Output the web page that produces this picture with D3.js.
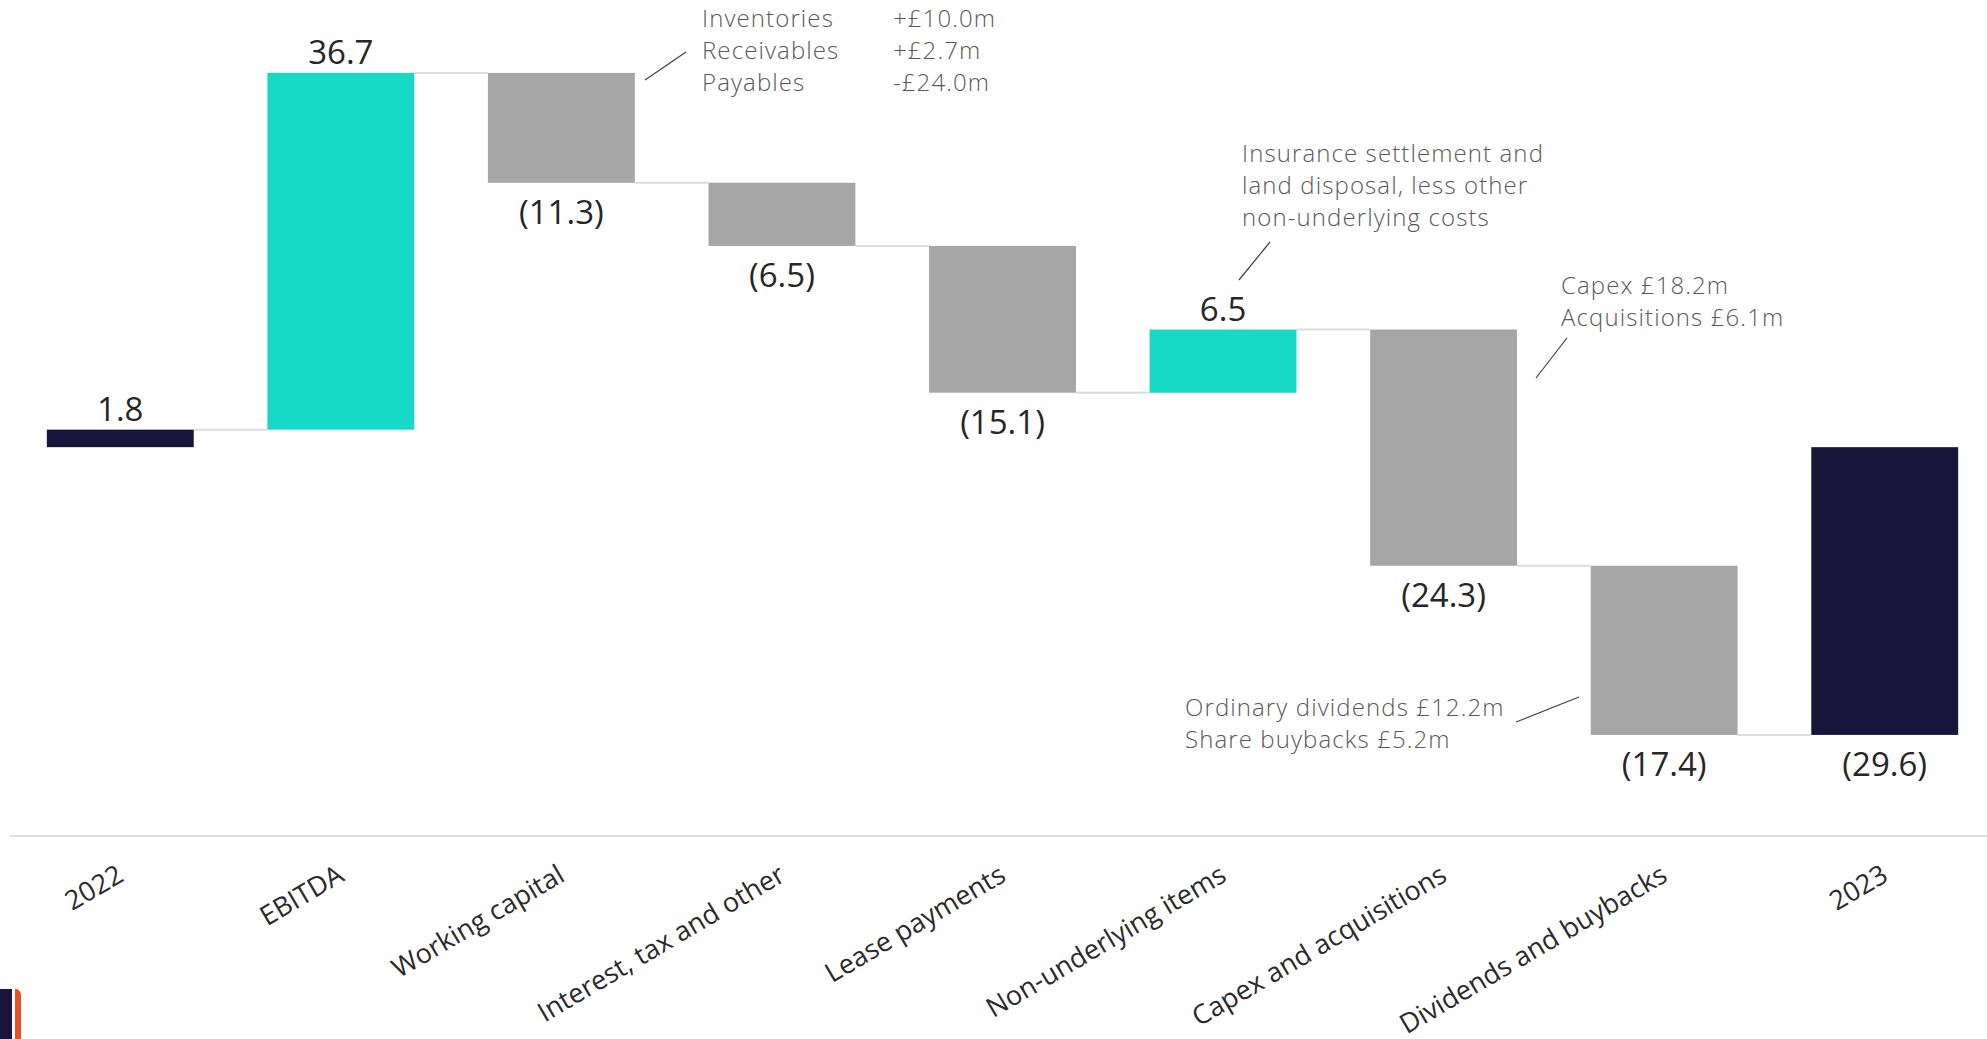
<!DOCTYPE html>
<html>
<head>
<meta charset="utf-8">
<script src="https://cdn.jsdelivr.net/npm/d3@7"></script>
<style>
  html, body { margin: 0; padding: 0; background: #ffffff; }
  svg { display: block; }
</style>
</head>
<body>
<svg id="chart" width="1987" height="1039"></svg>
<script>
// ---- data ----
const categories = ["2022", "EBITDA", "Working capital", "Interest, tax and other", "Lease payments",
  "Non-underlying items", "Capex and acquisitions", "Dividends and buybacks", "2023"];
const values = [1.8, 36.7, -11.3, -6.5, -15.1, 6.5, -24.3, -17.4, -29.6];
const barTypes = ["total", "increase", "decrease", "decrease", "decrease", "increase", "decrease", "decrease", "total"];
const valueLabels = ["1.8", "36.7", "(11.3)", "(6.5)", "(15.1)", "6.5", "(24.3)", "(17.4)", "(29.6)"];

const noteWorkingCapitalNames = ["Inventories", "Receivables", "Payables"];
const noteWorkingCapitalValues = ["+£10.0m", "+£2.7m", "-£24.0m"];
const noteNonUnderlying = ["Insurance settlement and", "land disposal, less other", "non-underlying costs"];
const noteCapex = ["Capex £18.2m", "Acquisitions £6.1m"];
const noteDividends = ["Ordinary dividends £12.2m", "Share buybacks £5.2m"];

// ---- setup ----
const W = 1987, H = 1039;
const svg = d3.select("#chart");
const FONT = "'Open Sans', 'Noto Sans', sans-serif";
const colors = { total: "#17153a", increase: "#17d9c5", decrease: "#a6a6a6" };

const x = d3.scaleBand().domain(categories).range([10, 1995]).paddingInner(0.334).paddingOuter(0.167);
const y = d3.scaleLinear().domain([-40, 46]).range([836, 0]);

// waterfall computation
let run = 0;
const bars = categories.map((c, i) => {
  let start, end;
  if (barTypes[i] === "total") { start = 0; end = values[i]; run = values[i]; }
  else { start = run; end = run + values[i]; run = end; }
  return { cat: c, start, end, value: values[i], type: barTypes[i], label: valueLabels[i] };
});

// axis line
svg.append("line")
  .attr("x1", x.range()[0]).attr("x2", W)
  .attr("y1", y(-40)).attr("y2", y(-40))
  .attr("stroke", "#e0e0e0").attr("stroke-width", 2);

// connectors
const conns = bars.slice(0, -1).map((b, i) => ({ from: b, to: bars[i + 1], level: b.end }));
svg.append("g").selectAll("line").data(conns).join("line")
  .attr("x1", d => x(d.from.cat) + x.bandwidth())
  .attr("x2", d => x(d.to.cat))
  .attr("y1", d => y(d.level)).attr("y2", d => y(d.level))
  .attr("stroke", "#dcdcdc").attr("stroke-width", 2);

// bars
svg.append("g").selectAll("rect").data(bars).join("rect")
  .attr("x", d => x(d.cat))
  .attr("width", x.bandwidth())
  .attr("y", d => y(Math.max(d.start, d.end)))
  .attr("height", d => Math.abs(y(d.start) - y(d.end)))
  .attr("fill", d => colors[d.type]);

// value labels
svg.append("g").selectAll("text").data(bars).join("text")
  .attr("x", d => x(d.cat) + x.bandwidth() / 2)
  .attr("y", d => d.value >= 0 ? y(Math.max(d.start, d.end)) - 9 : y(Math.min(d.start, d.end)) + 41)
  .attr("text-anchor", "middle")
  .attr("font-family", FONT).attr("font-size", 33)
  .attr("fill", "#262626")
  .text(d => d.label);

// category labels
svg.append("g").selectAll("text").data(categories).join("text")
  .attr("transform", d => `translate(${x(d) + x.bandwidth() / 2 + 5},${880}) rotate(-30.5)`)
  .attr("text-anchor", "end")
  .attr("font-family", FONT).attr("font-size", 27)
  .attr("fill", "#2a2a2a")
  .text(d => d);

// annotations
const noteStyle = sel => sel.attr("font-family", FONT).attr("font-size", 24).attr("font-weight", 300)
  .attr("letter-spacing", 1.1).attr("fill", "#595959");
const lineStyle = sel => sel.attr("stroke", "#404040").attr("stroke-width", 1.2);

function noteLines(lines, x0, y0, dy) {
  const g = svg.append("g");
  g.selectAll("text").data(lines).join("text")
    .attr("x", x0).attr("y", (d, i) => y0 + i * dy)
    .call(noteStyle).text(d => d);
}
noteLines(noteWorkingCapitalNames, 702, 27, 32);
noteLines(noteWorkingCapitalValues, 893, 27, 32);
svg.append("line").attr("x1", 645).attr("y1", 80).attr("x2", 686).attr("y2", 52).call(lineStyle);

noteLines(noteNonUnderlying, 1242, 162, 32);
svg.append("line").attr("x1", 1270).attr("y1", 242).attr("x2", 1239).attr("y2", 280).call(lineStyle);

noteLines(noteCapex, 1561, 294, 32);
svg.append("line").attr("x1", 1567).attr("y1", 338).attr("x2", 1536).attr("y2", 378).call(lineStyle);

noteLines(noteDividends, 1185, 716, 32);
svg.append("line").attr("x1", 1516).attr("y1", 722).attr("x2", 1579).attr("y2", 697).call(lineStyle);

// corner logo fragment
svg.append("rect").attr("x", 0).attr("y", 989).attr("width", 12).attr("height", 50).attr("fill", "#17153a");
svg.append("path").attr("d", "M15,989 L17,989 Q21,991 21,995 L21,1039 L15,1039 Z").attr("fill", "#e8502a");
</script>
</body>
</html>
